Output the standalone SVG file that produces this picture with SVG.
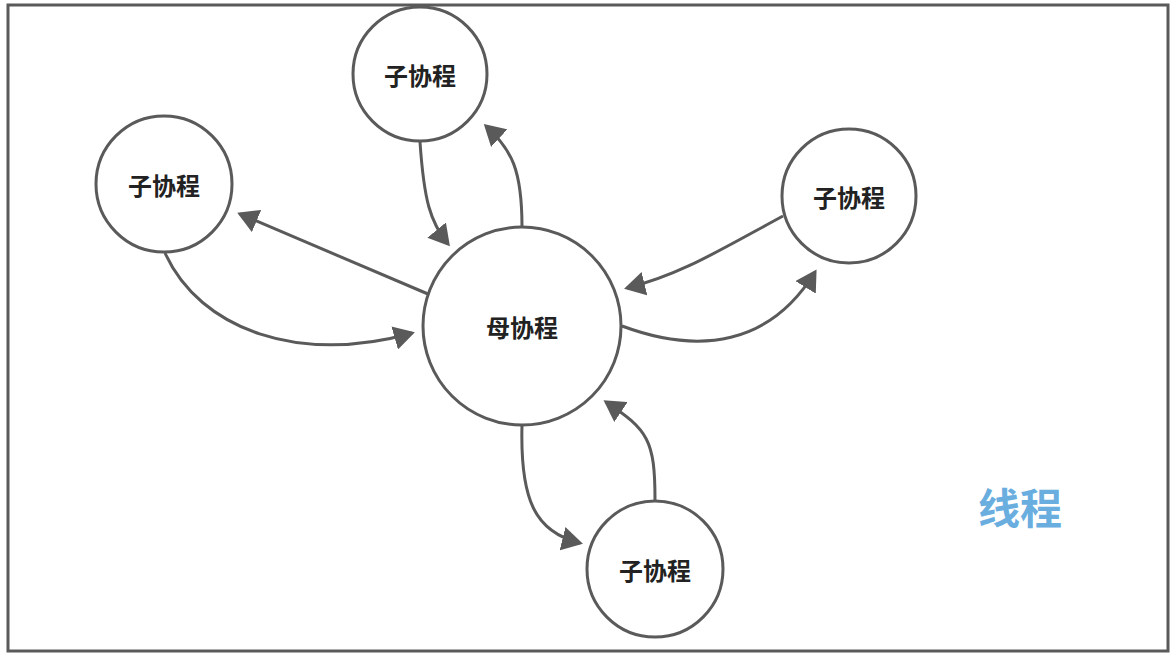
<svg xmlns="http://www.w3.org/2000/svg" width="1176" height="656" viewBox="0 0 1176 656">
<style>
.n{fill:#fff;stroke:#5a5a5a;stroke-width:3}
.t{font-family:"Noto Sans CJK SC","Noto Sans",sans-serif;font-weight:bold;font-size:24px;fill:#222;text-anchor:middle;dominant-baseline:central}
.c{fill:none;stroke:#5a5a5a;stroke-width:3;marker-end:url(#a)}
</style>
<defs><marker id="a" markerWidth="8" markerHeight="8" refX="6" refY="4" orient="auto" markerUnits="strokeWidth"><path d="M0,0 L7,4 L0,8 Z" fill="#5a5a5a"/></marker></defs>
<rect x="0" y="0" width="1176" height="656" fill="#fff"/>
<rect x="8" y="5" width="1160" height="646" fill="none" stroke="#5a5a5a" stroke-width="3"/>
<g id="connectors">
<path class="c" d="M522,227 C522,170 512,150 486,126"/>
<path class="c" d="M420,142 C424,200 430,222 448,244"/>
<path class="c" d="M428,294 L240,214"/>
<path class="c" d="M165,253 C200,330 300,365 412,333"/>
<path class="c" d="M783,216 C720,250 680,275 627,288"/>
<path class="c" d="M622,326 C700,355 770,345 815,272"/>
<path class="c" d="M522,425 C520,500 535,532 580,543"/>
<path class="c" d="M655,500 C655,440 648,430 606,402"/>
</g>
<g id="top"><circle class="n" cx="420" cy="74" r="67"/><text class="t" x="420" y="74">子协程</text></g>
<g id="left"><circle class="n" cx="164" cy="184" r="68"/><text class="t" x="164" y="184">子协程</text></g>
<g id="right"><circle class="n" cx="849" cy="196" r="67"/><text class="t" x="849" y="196">子协程</text></g>
<g id="mother"><circle class="n" cx="522" cy="326" r="99"/><text class="t" x="522" y="326">母协程</text></g>
<g id="bottom"><circle class="n" cx="655" cy="569" r="68"/><text class="t" x="655" y="569">子协程</text></g>
<text x="1020" y="505" font-family="Noto Sans CJK SC,sans-serif" font-weight="bold" font-size="42" fill="#6aaee0" text-anchor="middle" dominant-baseline="central">线程</text>
</svg>
